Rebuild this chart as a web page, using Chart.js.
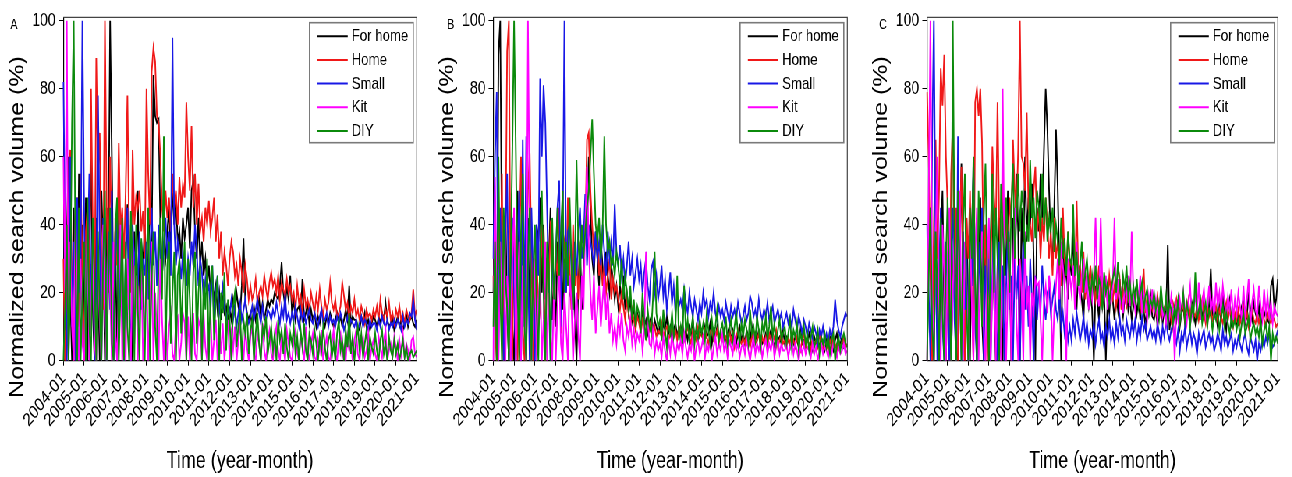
<!DOCTYPE html>
<html>
<head>
<meta charset="utf-8">
<title>Normalized search volume</title>
<script src="https://cdn.jsdelivr.net/npm/chart.js@4.4.1/dist/chart.umd.min.js"></script>
<style>
  html, body { margin: 0; padding: 0; background: #fff; overflow: hidden; }
  /* the source figure is squeezed horizontally, so the charts are drawn wide and scaled down */
  #wrap { position: absolute; left: 0; top: 0; width: 1656px; height: 477px;
          transform: scaleX(0.78); transform-origin: 0 0; }
  #wrap canvas { position: absolute; top: 0; }
</style>
</head>
<body>
<div id="wrap">
  <canvas id="cA" width="552" height="477" style="left:0px"></canvas>
  <canvas id="cB" width="552" height="477" style="left:552px"></canvas>
  <canvas id="cC" width="552" height="477" style="left:1104px"></canvas>
</div>
<script>
/* ---------- data ---------- */

const months = [];
for (let y = 2004; y <= 2021; y++) {
  for (let m = 1; m <= 12; m++) {
    if (y === 2021 && m > 1) break;
    months.push(y + '-' + String(m).padStart(2, '0'));
  }
}
const yTicks = [0, 20, 40, 60, 80, 100];
const seriesNames = ['For home', 'Home', 'Small', 'Kit', 'DIY'];

// panel A
const forHomeA = [
  0, 0, 35, 60, 20, 0, 45, 30, 0, 55, 20, 40,
  10, 48, 0, 30, 62, 15, 0, 42, 25, 0, 50, 33,
  0, 45, 28, 100, 60, 12, 38, 0, 44, 20, 35, 0,
  30, 46, 15, 40, 0, 38, 25, 50, 12, 35, 28, 40,
  22, 30, 48, 35, 84, 72, 70, 71, 40, 25, 35, 30,
  38, 45, 30, 52, 40, 48, 35, 38, 30, 42, 36, 40,
  45, 33, 50, 53, 38, 30, 42, 28, 35, 25, 30, 22,
  28, 20, 25, 18, 22, 15, 20, 12, 18, 14, 16, 12,
  15, 12, 18, 14, 20, 16, 13, 22, 36, 18, 14, 12,
  14, 10, 16, 12, 15, 18, 13, 17, 12, 15, 18, 16,
  18, 17, 20, 19, 18, 22, 29, 20, 16, 22, 18, 25,
  14, 18, 12, 15, 16, 13, 24, 12, 14, 17, 11, 15,
  12, 14, 10, 13, 11, 15, 12, 10, 13, 11, 14, 12,
  10, 12, 14, 11, 13, 10, 12, 15, 12, 22, 11, 13,
  12, 12, 10, 9, 13, 11, 14, 10, 12, 9, 11, 13,
  12, 10, 13, 11, 14, 12, 17, 12, 10, 11, 13, 9,
  11, 13, 10, 12, 9, 11, 14, 10, 12, 13, 11, 10,
  12
];
const homeA = [
  30, 0, 15, 40, 62, 20, 0, 35, 48, 10, 55, 25,
  0, 38, 45, 20, 80, 40, 10, 89, 55, 67, 30, 15,
  100, 45, 20, 60, 35, 0, 42, 28, 64, 38, 45, 30,
  50, 78, 35, 20, 62, 40, 48, 45, 50, 38, 44, 30,
  80, 55, 40, 85, 92, 88, 72, 70, 60, 45, 38, 50,
  42, 48, 38, 55, 45, 50, 40, 54, 45, 52, 48, 76,
  60, 50, 69, 45, 55, 40, 52, 38, 42, 35, 45, 40,
  47, 38, 42, 48, 35, 43, 30, 38, 25, 32, 28, 22,
  30, 35, 32, 25, 28, 22, 30, 26, 20, 28, 24, 18,
  22, 18, 20, 24, 17, 20, 22, 19, 25, 21, 18, 23,
  26, 22, 24, 20, 25, 18, 23, 21, 19, 24, 20, 22,
  18, 20, 15, 22, 17, 19, 14, 21, 16, 18, 15, 20,
  17, 14, 19, 15, 21, 16, 13, 18, 15, 17, 23, 17,
  15, 18, 13, 14, 16, 23, 19, 15, 17, 12, 16, 14,
  18, 13, 15, 12, 16, 14, 11, 15, 13, 14, 12, 15,
  13, 16, 12, 18, 14, 12, 15, 13, 17, 12, 14, 11,
  15, 13, 16, 12, 14, 11, 15, 13, 12, 14, 21, 13,
  15
];
const smallA = [
  82, 40, 0, 25, 60, 10, 35, 0, 48, 20, 30, 100,
  45, 0, 30, 55, 15, 40, 0, 20, 78, 35, 0, 42,
  25, 0, 38, 15, 50, 0, 30, 42, 10, 35, 20, 0,
  32, 45, 18, 0, 40, 28, 35, 22, 38, 15, 30, 25,
  35, 18, 30, 45, 28, 38, 22, 40, 30, 25, 35, 42,
  30, 38, 25, 95, 40, 28, 35, 30, 24, 32, 28, 22,
  30, 25, 35, 28, 40, 32, 22, 30, 26, 18, 24, 20,
  22, 15, 28, 12, 20, 25, 14, 18, 22, 16, 12, 15,
  14, 18, 12, 16, 10, 14, 17, 12, 15, 18, 13, 11,
  13, 16, 12, 15, 18, 14, 11, 16, 13, 12, 15, 14,
  12, 15, 13, 17, 14, 11, 16, 13, 19, 12, 14, 11,
  14, 12, 16, 13, 10, 15, 12, 14, 11, 13, 15, 12,
  11, 14, 12, 10, 13, 15, 11, 12, 14, 10, 13, 11,
  12, 10, 13, 11, 14, 12, 9, 11, 13, 10, 12, 11,
  10, 12, 9, 11, 13, 10, 12, 11, 9, 12, 10, 11,
  11, 9, 12, 10, 13, 11, 10, 12, 9, 11, 10, 12,
  10, 12, 11, 9, 13, 10, 12, 11, 14, 13, 18, 12,
  9
];
const kitA = [
  60, 20, 100, 0, 35, 10, 0, 45, 15, 0, 30, 5,
  0, 25, 40, 0, 15, 35, 5, 0, 28, 12, 0, 40,
  10, 0, 30, 20, 0, 35, 8, 0, 22, 40, 0, 15,
  0, 30, 12, 0, 38, 5, 25, 0, 18, 30, 0, 10,
  28, 0, 15, 35, 0, 20, 8, 0, 30, 12, 0, 14,
  0, 10, 14, 2, 0, 12, 13, 0, 5, 14, 11, 0,
  13, 0, 8, 14, 2, 0, 12, 10, 0, 14, 4, 0,
  10, 13, 0, 6, 12, 0, 9, 2, 11, 0, 7, 12,
  0, 8, 3, 10, 0, 6, 11, 2, 0, 9, 4, 0,
  7, 10, 2, 0, 8, 5, 0, 11, 3, 0, 6, 9,
  2, 0, 7, 10, 3, 0, 8, 4, 0, 9, 5, 1,
  0, 6, 9, 2, 0, 7, 4, 0, 10, 3, 0, 5,
  8, 1, 0, 6, 3, 9, 0, 4, 7, 1, 0, 5,
  9, 2, 0, 6, 8, 1, 4, 0, 7, 3, 5, 0,
  6, 9, 2, 0, 5, 7, 1, 3, 8, 0, 4, 6,
  2, 0, 7, 4, 1, 6, 9, 0, 3, 5, 1, 7,
  4, 0, 6, 2, 8, 1, 5, 3, 0, 6, 7, 2,
  1
];
const diyA = [
  0, 15, 40, 0, 20, 70, 100, 30, 0, 45, 0, 20,
  35, 0, 48, 10, 0, 42, 25, 0, 38, 15, 0, 30,
  50, 0, 22, 45, 5, 0, 38, 48, 0, 20, 42, 0,
  35, 10, 0, 44, 28, 0, 40, 15, 0, 36, 22, 0,
  30, 45, 0, 25, 38, 10, 0, 30, 42, 18, 66, 0,
  28, 35, 5, 20, 32, 0, 25, 30, 8, 22, 35, 0,
  30, 18, 0, 26, 32, 5, 20, 28, 0, 24, 15, 30,
  0, 22, 28, 6, 18, 25, 0, 20, 14, 26, 3, 18,
  12, 0, 16, 20, 4, 10, 15, 0, 12, 8, 14, 2,
  9, 12, 0, 8, 14, 5, 0, 10, 7, 13, 2, 6,
  10, 3, 8, 0, 12, 6, 9, 2, 11, 4, 0, 8,
  5, 10, 2, 7, 0, 9, 4, 11, 3, 0, 8, 6,
  2, 9, 5, 0, 7, 3, 10, 4, 0, 6, 8, 1,
  5, 0, 8, 12, 3, 6, 0, 9, 4, 14, 2, 7,
  0, 6, 10, 3, 8, 1, 5, 9, 0, 7, 4, 2,
  8, 3, 0, 6, 9, 2, 5, 0, 7, 3, 1, 6,
  2, 5, 0, 3, 6, 1, 4, 0, 2, 3, 1, 2,
  3
];

// panel B
const forHomeB = [
  20, 40, 0, 90, 100, 30, 0, 45, 15, 0, 35, 10,
  0, 28, 50, 5, 0, 38, 20, 0, 42, 12, 0, 30,
  25, 40, 35, 48, 20, 40, 18, 30, 30, 45, 12, 22,
  10, 35, 28, 38, 15, 30, 25, 35, 20, 18, 30, 12,
  0, 22, 35, 15, 28, 40, 38, 60, 45, 30, 25, 38,
  30, 22, 35, 28, 18, 32, 25, 20, 28, 24, 18, 22,
  16, 22, 18, 25, 15, 20, 14, 18, 12, 16, 10, 14,
  12, 9, 14, 10, 12, 8, 11, 13, 9, 12, 10, 8,
  10, 7, 11, 9, 13, 8, 10, 6, 9, 11, 7, 10,
  8, 11, 7, 9, 6, 10, 8, 12, 7, 9, 6, 8,
  9, 6, 10, 7, 8, 11, 5, 9, 7, 10, 6, 8,
  7, 9, 5, 8, 10, 6, 9, 7, 5, 8, 10, 6,
  8, 5, 9, 7, 6, 10, 5, 8, 6, 9, 7, 5,
  6, 8, 5, 7, 9, 6, 4, 8, 6, 7, 5, 9,
  5, 7, 6, 4, 8, 5, 7, 6, 4, 9, 5, 6,
  4, 6, 8, 5, 3, 7, 5, 6, 4, 7, 5, 3,
  6, 4, 7, 5, 3, 6, 8, 4, 5, 7, 4, 5,
  4
];
const homeB = [
  25, 10, 0, 40, 20, 55, 0, 30, 91, 100, 15, 0,
  40, 20, 0, 35, 60, 10, 0, 25, 50, 61, 30, 0,
  20, 35, 10, 15, 42, 30, 0, 30, 22, 40, 38, 12,
  30, 25, 45, 8, 38, 35, 20, 48, 28, 15, 40, 22,
  30, 18, 35, 38, 40, 36, 65, 67, 50, 40, 32, 35,
  38, 25, 30, 22, 28, 20, 25, 30, 18, 24, 20, 22,
  18, 15, 20, 16, 12, 18, 14, 10, 15, 12, 9, 13,
  11, 8, 12, 10, 7, 11, 9, 12, 8, 10, 7, 9,
  8, 11, 7, 9, 10, 6, 8, 11, 7, 9, 6, 10,
  7, 9, 6, 8, 10, 7, 5, 9, 8, 6, 10, 7,
  8, 6, 9, 7, 5, 8, 10, 6, 7, 9, 5, 8,
  6, 8, 7, 5, 9, 6, 8, 4, 7, 9, 6, 5,
  7, 5, 8, 6, 4, 7, 9, 5, 6, 8, 4, 7,
  5, 7, 4, 8, 6, 5, 7, 9, 4, 6, 8, 5,
  6, 4, 7, 5, 8, 6, 4, 7, 5, 3, 6, 8,
  4, 6, 5, 3, 7, 5, 6, 4, 8, 5, 3, 6,
  5, 3, 6, 4, 7, 5, 3, 6, 4, 5, 7, 4,
  5
];
const smallB = [
  30, 60, 79, 0, 45, 20, 0, 38, 55, 10, 0, 42,
  20, 0, 35, 50, 0, 65, 10, 66, 30, 0, 45, 25,
  0, 40, 25, 83, 60, 81, 70, 45, 20, 0, 38, 15,
  30, 45, 53, 10, 35, 100, 20, 38, 40, 28, 15, 35,
  25, 38, 45, 30, 35, 49, 28, 40, 35, 32, 28, 38,
  30, 35, 28, 40, 32, 25, 38, 30, 35, 28, 46, 32,
  28, 34, 25, 30, 22, 28, 35, 25, 30, 22, 26, 30,
  24, 28, 20, 26, 30, 22, 18, 27, 29, 20, 25, 18,
  22, 28, 19, 24, 15, 20, 26, 17, 22, 14, 19, 16,
  18, 15, 21, 17, 14, 20, 16, 13, 18, 15, 12, 17,
  14, 20, 16, 18, 13, 17, 15, 20, 14, 12, 16, 13,
  15, 12, 17, 14, 11, 16, 13, 15, 12, 17, 14, 11,
  13, 16, 12, 14, 19, 17, 13, 15, 12, 18, 14, 12,
  15, 13, 17, 12, 14, 16, 11, 13, 15, 12, 14, 10,
  12, 14, 11, 13, 10, 15, 12, 9, 13, 11, 8, 12,
  10, 7, 11, 9, 6, 10, 8, 5, 9, 7, 10, 6,
  8, 5, 9, 7, 10, 18, 12, 9, 7, 10, 12, 14,
  13
];
const kitB = [
  0, 54, 20, 0, 35, 10, 40, 0, 25, 15, 0, 30,
  45, 0, 20, 35, 0, 28, 12, 0, 100, 40, 0, 15,
  30, 0, 18, 25, 0, 12, 35, 0, 20, 8, 0, 22,
  0, 15, 28, 5, 0, 20, 10, 0, 25, 18, 0, 12,
  20, 8, 0, 25, 15, 40, 57, 35, 20, 12, 25, 8,
  15, 22, 10, 18, 25, 12, 20, 8, 14, 6, 10, 5,
  12, 8, 14, 6, 3, 10, 7, 12, 5, 9, 4, 8,
  6, 10, 3, 8, 32, 12, 5, 4, 9, 2, 6, 3,
  5, 1, 7, 3, 0, 6, 2, 8, 4, 1, 5, 3,
  6, 2, 8, 4, 1, 5, 3, 7, 0, 4, 6, 2,
  4, 7, 1, 5, 3, 6, 0, 4, 7, 2, 5, 3,
  8, 3, 5, 1, 6, 4, 2, 7, 3, 5, 1, 4,
  5, 2, 6, 3, 0, 4, 7, 2, 5, 3, 6, 1,
  4, 6, 2, 5, 3, 7, 1, 4, 6, 2, 5, 3,
  3, 5, 1, 4, 6, 2, 5, 3, 0, 4, 2, 5,
  2, 4, 3, 1, 5, 2, 4, 0, 3, 5, 2, 4,
  3, 1, 4, 2, 5, 3, 1, 4, 2, 3, 5, 2,
  3
];
const diyB = [
  10, 35, 0, 60, 20, 0, 45, 25, 15, 0, 30, 62,
  100, 62, 20, 0, 38, 55, 10, 0, 30, 45, 0, 25,
  40, 15, 0, 32, 50, 20, 0, 35, 28, 0, 42, 18,
  30, 45, 25, 38, 50, 20, 35, 22, 48, 30, 15, 28,
  59, 35, 25, 40, 30, 38, 45, 50, 60, 71, 55, 40,
  35, 42, 30, 38, 66, 40, 32, 35, 28, 30, 25, 32,
  28, 22, 30, 18, 25, 20, 15, 22, 12, 18, 10, 16,
  14, 8, 20, 12, 6, 15, 10, 8, 18, 32, 14, 10,
  12, 6, 15, 9, 4, 11, 8, 14, 7, 10, 25, 6,
  10, 5, 22, 8, 12, 6, 9, 13, 5, 10, 7, 12,
  8, 11, 6, 14, 9, 5, 12, 7, 10, 15, 6, 9,
  11, 7, 13, 5, 9, 12, 6, 10, 14, 8, 5, 11,
  7, 12, 9, 5, 15, 8, 10, 6, 13, 9, 4, 11,
  8, 13, 6, 10, 16, 7, 11, 5, 9, 12, 6, 8,
  10, 5, 8, 12, 4, 9, 7, 11, 3, 8, 6, 10,
  5, 8, 3, 7, 10, 4, 6, 9, 2, 7, 5, 8,
  4, 7, 2, 6, 8, 0, 5, 7, 3, 6, 8, 5,
  4
];

// panel C
const forHomeC = [
  0, 30, 45, 10, 0, 38, 20, 0, 35, 50, 15, 0,
  28, 40, 0, 22, 45, 10, 0, 32, 58, 20, 0, 42,
  15, 0, 38, 55, 25, 0, 30, 48, 12, 0, 40, 22,
  0, 35, 45, 18, 0, 28, 42, 15, 0, 38, 25, 50,
  30, 0, 42, 28, 55, 38, 0, 45, 30, 60, 35, 48,
  40, 52, 30, 0, 45, 38, 55, 42, 62, 80, 68, 50,
  35, 28, 45, 68, 51, 25, 0, 38, 22, 28, 18, 30,
  25, 38, 20, 15, 28, 22, 18, 12, 25, 20, 16, 22,
  15, 0, 22, 18, 12, 25, 16, 20, 0, 18, 14, 22,
  18, 12, 20, 15, 24, 17, 13, 19, 22, 15, 18, 12,
  16, 20, 14, 18, 12, 22, 15, 10, 17, 14, 19, 13,
  12, 16, 10, 14, 18, 11, 15, 13, 34, 9, 14, 10,
  15, 12, 18, 10, 14, 16, 11, 13, 15, 12, 17, 14,
  11, 15, 13, 16, 12, 18, 14, 11, 16, 27, 13, 15,
  14, 10, 16, 12, 20, 13, 9, 15, 18, 11, 14, 12,
  10, 14, 12, 16, 18, 11, 13, 20, 15, 12, 17, 14,
  12, 16, 10, 14, 13, 15, 12, 11, 22, 24, 15, 18,
  24
];
const homeC = [
  79, 60, 25, 0, 40, 65, 30, 50, 86, 75, 90, 60,
  45, 0, 55, 70, 30, 45, 0, 38, 57, 20, 0, 42,
  30, 50, 20, 0, 76, 80, 72, 80, 64, 25, 40, 0,
  35, 20, 63, 48, 38, 76, 40, 28, 55, 35, 45, 30,
  48, 40, 65, 50, 42, 62, 100, 60, 58, 50, 73, 45,
  40, 35, 50, 57, 38, 45, 30, 42, 35, 48, 40, 30,
  38, 25, 42, 30, 35, 28, 22, 45, 30, 25, 38, 28,
  30, 25, 22, 47, 25, 28, 20, 32, 18, 25, 22, 28,
  20, 25, 18, 22, 28, 16, 24, 19, 22, 17, 25, 20,
  18, 22, 16, 20, 24, 15, 21, 18, 16, 22, 19, 17,
  20, 16, 22, 18, 15, 20, 27, 14, 19, 16, 18, 15,
  17, 14, 19, 16, 13, 15, 15, 18, 14, 16, 12, 17,
  15, 18, 13, 16, 14, 17, 12, 15, 18, 13, 16, 14,
  13, 16, 12, 15, 18, 14, 11, 16, 13, 15, 12, 14,
  16, 12, 15, 13, 11, 14, 17, 12, 15, 13, 10, 14,
  12, 15, 11, 13, 16, 12, 14, 10, 13, 15, 12, 11,
  14, 11, 13, 15, 12, 10, 14, 12, 11, 13, 12, 10,
  11
];
const smallC = [
  40, 20, 0, 65, 100, 30, 0, 25, 45, 10, 0, 35,
  20, 0, 30, 45, 12, 0, 66, 25, 0, 38, 15, 30,
  0, 40, 22, 59, 10, 0, 35, 20, 45, 0, 28, 15,
  30, 0, 25, 40, 12, 0, 35, 20, 28, 0, 22, 38,
  15, 25, 0, 30, 18, 28, 0, 22, 35, 15, 25, 10,
  30, 18, 0, 25, 12, 22, 15, 28, 18, 12, 20, 22,
  14, 18, 22, 15, 12, 20, 10, 14, 8, 12, 6, 10,
  6, 12, 8, 14, 10, 6, 9, 13, 7, 11, 5, 9,
  7, 11, 5, 9, 12, 6, 8, 4, 10, 7, 12, 6,
  9, 5, 11, 7, 13, 8, 10, 6, 12, 9, 7, 11,
  8, 12, 6, 10, 7, 13, 9, 11, 6, 8, 10, 7,
  9, 6, 11, 8, 5, 10, 7, 12, 8, 6, 9, 11,
  7, 5, 9, 3, 8, 6, 10, 4, 7, 9, 5, 8,
  6, 2, 8, 5, 7, 9, 4, 6, 8, 5, 7, 3,
  5, 8, 6, 3, 9, 5, 7, 4, 6, 8, 3, 6,
  4, 7, 5, 3, 6, 8, 4, 2, 7, 5, 3, 6,
  0, 5, 3, 6, 4, 7, 5, 8, 6, 4, 5, 7,
  9
];
const kitC = [
  0, 50, 100, 20, 0, 35, 60, 15, 0, 40, 25, 0,
  30, 45, 0, 20, 38, 0, 25, 50, 12, 0, 35, 22,
  0, 40, 18, 0, 30, 45, 0, 25, 38, 10, 0, 28,
  42, 0, 20, 35, 0, 28, 15, 0, 80, 30, 0, 22,
  35, 0, 25, 45, 12, 0, 30, 20, 0, 38, 15, 22,
  0, 20, 15, 24, 22, 23, 12, 0, 18, 22, 14, 25,
  20, 0, 15, 22, 30, 18, 35, 28, 22, 0, 30, 25,
  20, 28, 15, 35, 22, 18, 25, 30, 20, 26, 15, 22,
  18, 25, 42, 20, 16, 42, 22, 18, 25, 15, 20, 17,
  22, 42, 18, 24, 16, 20, 14, 22, 18, 25, 16, 38,
  20, 15, 22, 18, 25, 14, 20, 17, 12, 19, 15, 21,
  14, 18, 12, 16, 20, 13, 15, 11, 17, 13, 19, 15,
  0, 16, 12, 18, 14, 20, 15, 11, 17, 22, 13, 16,
  19, 14, 23, 12, 17, 21, 13, 16, 22, 15, 18, 12,
  23, 16, 20, 14, 22, 17, 13, 19, 15, 21, 12, 18,
  14, 20, 16, 12, 22, 13, 18, 24, 10, 17, 21, 15,
  13, 22, 16, 12, 21, 14, 19, 13, 17, 11, 16, 14,
  13
];
const diyC = [
  0, 25, 45, 10, 0, 38, 20, 0, 42, 15, 0, 30,
  48, 20, 0, 100, 35, 0, 50, 25, 0, 40, 55, 15,
  0, 45, 30, 60, 20, 0, 50, 35, 10, 42, 58, 25,
  0, 38, 55, 20, 45, 30, 0, 52, 40, 25, 48, 35,
  20, 45, 58, 30, 42, 55, 38, 50, 45, 30, 40, 35,
  59, 42, 48, 36, 50, 45, 38, 55, 40, 48, 35, 42,
  38, 45, 32, 40, 35, 28, 42, 30, 36, 25, 38, 30,
  28, 46, 25, 32, 22, 28, 35, 20, 26, 30, 22, 18,
  25, 20, 28, 18, 24, 22, 15, 26, 20, 23, 17, 21,
  24, 27, 20, 29, 22, 18, 25, 21, 28, 19, 23, 17,
  22, 18, 24, 16, 20, 23, 15, 19, 21, 14, 18, 16,
  20, 15, 18, 13, 22, 16, 14, 19, 12, 17, 15, 11,
  16, 13, 18, 11, 15, 20, 12, 17, 14, 10, 16, 13,
  26, 12, 15, 18, 11, 14, 17, 10, 15, 13, 9, 14,
  12, 15, 9, 13, 16, 10, 14, 11, 8, 13, 10, 12,
  9, 12, 7, 11, 14, 8, 10, 13, 6, 9, 11, 8,
  10, 7, 12, 5, 9, 11, 6, 10, 0, 8, 5, 7,
  5
];

/* ---------- look ---------- */

const FONT = 'Arial, "Liberation Sans", sans-serif';
const seriesColors = ['#000000', '#f01818', '#1818e6', '#ff00ff', '#0b8a0b'];

const panels = [
  { id: 'cA', letter: 'A', letterX: 18, axisW: 81.2, padRight: 14.2,
    series: [forHomeA, homeA, smallA, kitA, diyA] },
  { id: 'cB', letter: 'B', letterX: 26, axisW: 80.4, padRight: 12.3,
    series: [forHomeB, homeB, smallB, kitB, diyB] },
  { id: 'cC', letter: 'C', letterX: 28, axisW: 84.5, padRight: 9.8,
    series: [forHomeC, homeC, smallC, kitC, diyC] },
];

// frame, boxed legend, panel letter and axis titles
const panelDecor = {
  id: 'panelDecor',
  afterDraw(chart, args, opts) {
    const ctx = chart.ctx;
    const a = chart.chartArea;
    ctx.save();

    // top + right edges of the frame
    ctx.strokeStyle = '#444';
    ctx.lineWidth = 1.2;
    ctx.beginPath();
    ctx.moveTo(a.left, a.top);
    ctx.lineTo(a.right, a.top);
    ctx.lineTo(a.right, a.bottom);
    ctx.stroke();

    // legend box
    const bw = 133, bh = 120;
    const bx = a.right - 4.5 - bw, by = 22.7;
    ctx.fillStyle = '#fff';
    ctx.fillRect(bx, by, bw, bh);
    ctx.strokeStyle = '#7a7a7a';
    ctx.lineWidth = 1.6;
    ctx.strokeRect(bx, by, bw, bh);
    ctx.font = '17px ' + FONT;
    ctx.textBaseline = 'middle';
    ctx.textAlign = 'left';
    chart.data.datasets.forEach((ds, i) => {
      const yy = by + 13.5 + i * 23.7;
      ctx.strokeStyle = ds.borderColor;
      ctx.lineWidth = 2;
      ctx.beginPath();
      ctx.moveTo(bx + 10, yy);
      ctx.lineTo(bx + 49, yy);
      ctx.stroke();
      ctx.fillStyle = '#000';
      ctx.fillText(ds.label, bx + 54, yy + 0.5);
    });

    // panel letter
    ctx.fillStyle = '#000';
    ctx.font = '14px ' + FONT;
    ctx.textAlign = 'center';
    ctx.fillText(opts.letter, opts.letterX, 25);

    // x title
    ctx.font = '23px ' + FONT;
    ctx.fillText('Time (year-month)', (a.left + a.right) / 2, 462);

    // y title
    ctx.translate(a.left - 58, 227);
    ctx.rotate(-Math.PI / 2);
    ctx.font = '25px ' + FONT;
    ctx.fillText('Normalized search volume (%)', 0, 0);
    ctx.restore();
  }
};

panels.forEach(p => {
  const datasets = p.series.map((vals, i) => ({
    label: seriesNames[i],
    data: vals,
    borderColor: seriesColors[i],
    backgroundColor: seriesColors[i],
    borderWidth: 1.9,
    pointRadius: 0,
    tension: 0,
    order: seriesNames.length - 1 - i, // later series on top, as in the source
  }));

  new Chart(document.getElementById(p.id), {
    type: 'line',
    data: { labels: months, datasets },
    plugins: [panelDecor],
    options: {
      responsive: false,
      animation: false,
      layout: { padding: { left: 0, top: 17.3, right: p.padRight, bottom: 0 } },
      plugins: {
        legend: { display: false },
        tooltip: { enabled: false },
        panelDecor: { letter: p.letter, letterX: p.letterX },
      },
      scales: {
        x: {
          type: 'category',
          offset: false,
          grid: { drawOnChartArea: false, color: '#000', tickLength: 5 },
          border: { display: true, color: '#000', width: 1.2 },
          ticks: {
            autoSkip: false,
            maxRotation: 45,
            minRotation: 45,
            padding: 2,
            color: '#000',
            font: { family: FONT, size: 18.5 },
            callback(value) {
              const lab = this.getLabelForValue(value);
              return lab.endsWith('-01') ? lab : null;
            },
          },
          afterFit(scale) { scale.height = 116.3; },
        },
        y: {
          min: 0,
          max: 101,
          grid: { drawOnChartArea: false, color: '#000', tickLength: 6 },
          border: { display: true, color: '#000', width: 1.2 },
          ticks: { color: '#000', padding: 4, font: { family: FONT, size: 18 } },
          afterBuildTicks(scale) { scale.ticks = yTicks.map(v => ({ value: v })); },
          afterFit(scale) { scale.width = p.axisW; },
        },
      },
    },
  });
});
</script>
</body>
</html>
